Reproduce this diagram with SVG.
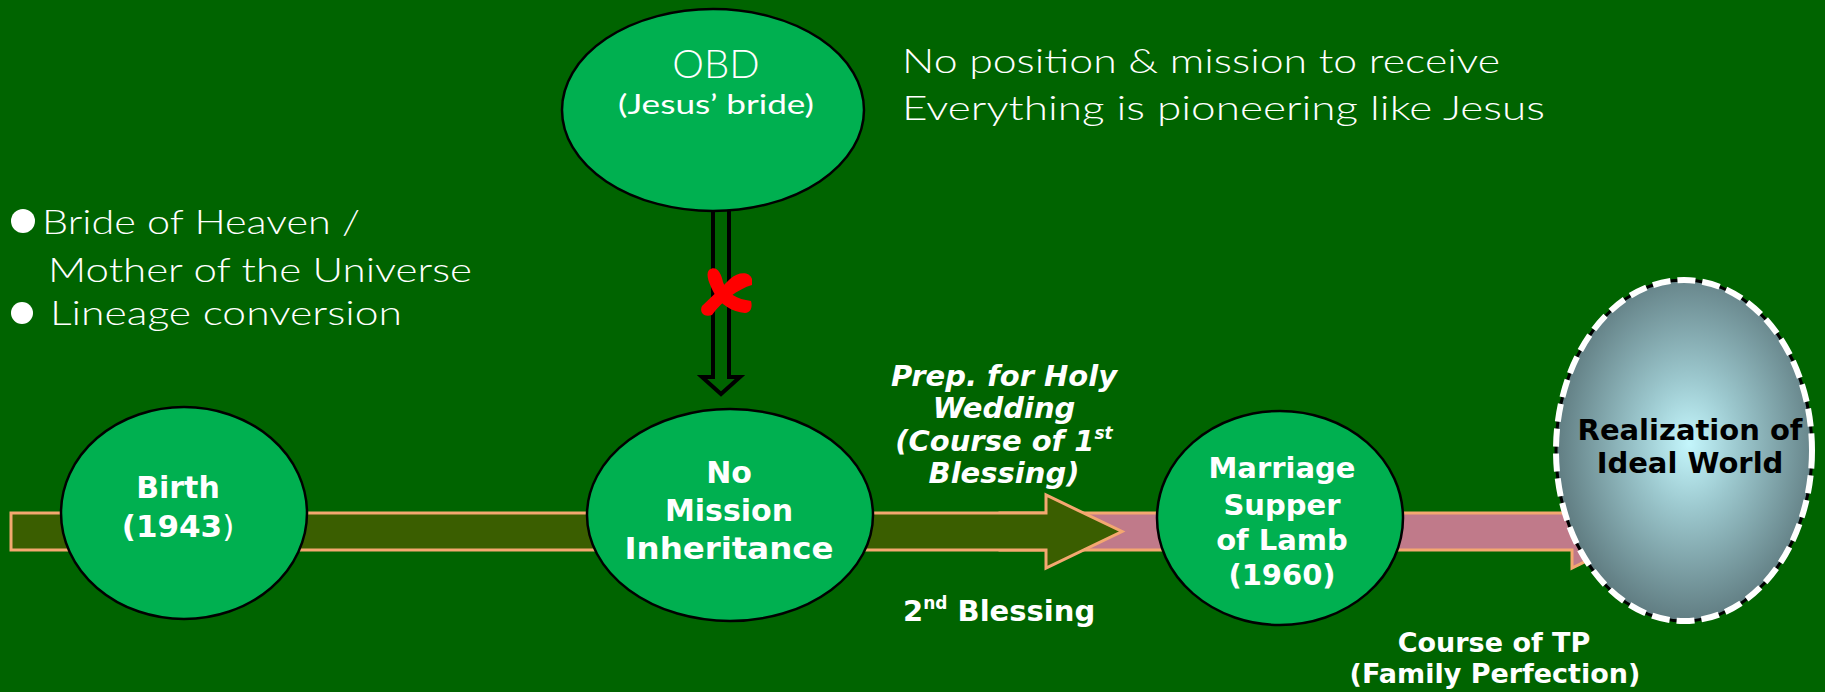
<svg xmlns="http://www.w3.org/2000/svg" width="1825" height="692" viewBox="0 0 1825 692">
<defs>
<style>
.node{fill:#00B050;stroke:#000;stroke-width:2.5}
.thin{font-family:"Lato","Open Sans","Liberation Sans",sans-serif;font-weight:300;fill:#fff}
.med{font-family:"Lato","Open Sans","Liberation Sans",sans-serif;font-weight:400;fill:#fff}
.b{font-family:"DejaVu Sans","Verdana",sans-serif;font-weight:bold;fill:#fff;text-anchor:middle}
.bi{font-family:"DejaVu Sans","Verdana",sans-serif;font-weight:bold;font-style:italic;fill:#fff;text-anchor:middle}
.band{stroke:#F4A870;stroke-width:3;stroke-linejoin:miter}
</style>
<radialGradient id="glow" cx="0.52" cy="0.48" r="0.55">
<stop offset="0" stop-color="#C4F6FC"/>
<stop offset="0.35" stop-color="#9CC8CE"/>
<stop offset="1" stop-color="#5B767B"/>
</radialGradient>
</defs>
<rect width="1825" height="692" fill="#006400"/>

<g id="connectors">
<polygon class="band" fill="#C07A8A" points="1000,513 1572,513 1572,495 1646,531.5 1572,568 1572,550 1000,550"/>
<polygon class="band" fill="#3A5E00" points="11,513 1046,513 1046,495 1122,531.5 1046,568 1046,550 11,550"/>
<polygon fill="#006400" stroke="#000" stroke-width="4" points="713,205 713,377 702,377 721,394 740,377 729,377 729,205"/>
<g id="cross" fill="#FF0000">
<path d="M709,270 C716,265 721,272 723,282 C727,294 737,299 751,301 C753,308 750,313 745,313 C732,312 720,304 714,293 C710,285 705,275 709,270 Z"/>
<path d="M752,279 C749,271 738,272 730,279 C720,289 711,297 702,306 C699,312 704,318 712,315 C722,301 738,289 752,285 Z"/>
</g>
</g>

<g id="obd">
<ellipse class="node" cx="713" cy="110" rx="151" ry="101"/>
<text class="thin" x="716" y="78" font-size="40" text-anchor="middle">OBD</text>
<text class="med" x="716" y="114" font-size="27" text-anchor="middle" textLength="196" lengthAdjust="spacingAndGlyphs">(Jesus’ bride)</text>
</g>

<g id="notes-top">
<text class="thin" x="902" y="73" font-size="34" textLength="598" lengthAdjust="spacingAndGlyphs">No position &amp; mission to receive</text>
<text class="thin" x="902" y="120" font-size="34" textLength="643" lengthAdjust="spacingAndGlyphs">Everything is pioneering like Jesus</text>
</g>

<g id="notes-left">
<circle cx="23" cy="221" r="12" fill="#fff"/>
<text class="thin" x="42" y="234" font-size="33" textLength="318" lengthAdjust="spacingAndGlyphs">Bride of Heaven /</text>
<text class="thin" x="48" y="282" font-size="33" textLength="424" lengthAdjust="spacingAndGlyphs">Mother of the Universe</text>
<circle cx="22" cy="313" r="11" fill="#fff"/>
<text class="thin" x="50" y="325" font-size="33" textLength="352" lengthAdjust="spacingAndGlyphs">Lineage conversion</text>
</g>

<g id="birth">
<ellipse class="node" cx="184" cy="513" rx="123" ry="106"/>
<text class="b" x="178" y="498" font-size="30">Birth</text>
<text class="b" x="178" y="537" font-size="31">(1943<tspan style="font-weight:normal">)</tspan></text>
</g>

<g id="no-mission">
<ellipse class="node" cx="730" cy="515" rx="143" ry="106"/>
<text class="b" x="729" y="483" font-size="30">No</text>
<text class="b" x="729" y="521" font-size="30">Mission</text>
<text class="b" x="729" y="559" font-size="30" textLength="209" lengthAdjust="spacingAndGlyphs">Inheritance</text>
</g>

<g id="prep-label">
<text class="bi" x="1004" y="386" font-size="29">Prep. for Holy</text>
<text class="bi" x="1004" y="418" font-size="29">Wedding</text>
<text class="bi" x="1004" y="451" font-size="29">(Course of 1<tspan font-size="17" dy="-12">st</tspan></text>
<text class="bi" x="1004" y="483" font-size="29">Blessing)</text>
</g>

<g id="second-blessing">
<text class="b" x="903" y="621" font-size="29" style="text-anchor:start">2<tspan font-size="17" dy="-12">nd</tspan><tspan dy="12"> Blessing</tspan></text>
</g>

<g id="marriage">
<ellipse class="node" cx="1280" cy="518" rx="123" ry="107"/>
<text class="b" x="1282" y="478" font-size="29">Marriage</text>
<text class="b" x="1282" y="515" font-size="29">Supper</text>
<text class="b" x="1282" y="550" font-size="29">of Lamb</text>
<text class="b" x="1282" y="585" font-size="29">(1960)</text>
</g>

<g id="ideal-world">
<ellipse cx="1684" cy="450.5" rx="128" ry="170.5" fill="url(#glow)" stroke="#000" stroke-width="3"/>
<ellipse cx="1684" cy="450.5" rx="128" ry="170.5" fill="none" stroke="#fff" stroke-width="6" stroke-dasharray="18 7"/>
<text class="b" x="1690" y="440" font-size="29" style="fill:#000">Realization of</text>
<text class="b" x="1690" y="473" font-size="29" style="fill:#000">Ideal World</text>
</g>

<g id="tp-label">
<text class="b" x="1494" y="652" font-size="27">Course of TP</text>
<text class="b" x="1495" y="683" font-size="27">(Family Perfection)</text>
</g>
</svg>
